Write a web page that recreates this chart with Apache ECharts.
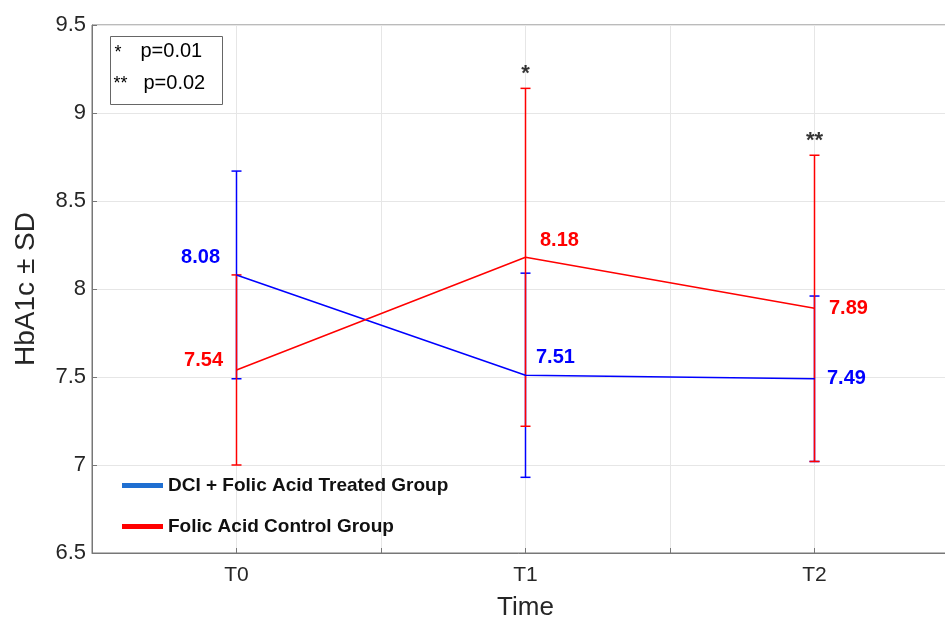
<!DOCTYPE html>
<html><head><meta charset="utf-8">
<script src="https://cdn.jsdelivr.net/npm/echarts@6/dist/echarts.min.js"></script>
<style>html,body{margin:0;padding:0;background:#fff}#c{width:945px;height:621px}</style>
</head><body><div id="c"></div>
<script>
const categories = ['T0', 'T1', 'T2'];
const dciMean = [8.08, 7.51, 7.49];
const dciSD = [0.59, 0.58, 0.47];
const folicMean = [7.54, 8.18, 7.89];
const folicSD = [0.54, 0.96, 0.87];
const significance = ['', '*', '**'];
const yTicks = [6.5, 7, 7.5, 8, 8.5, 9, 9.5];
const seriesNames = ['DCI + Folic Acid Treated Group', 'Folic Acid Control Group'];
const pNotes = [['*', 'p=0.01'], ['**', 'p=0.02']];

const BLUE = '#0000ff', RED = '#ff0000';
const FONT = 'Liberation Sans, Arial, sans-serif';

function errData(mean, sd) { return mean.map((m, i) => [i, m - sd[i], m + sd[i]]); }
function errSeries(mean, sd, color) {
  return {
    type: 'custom', silent: true, z: 3,
    data: errData(mean, sd),
    renderItem: function (params, api) {
      const lo = api.coord([api.value(0), api.value(1)]);
      const hi = api.coord([api.value(0), api.value(2)]);
      const w = 5;
      const st = { stroke: color, lineWidth: 1.5 };
      return { type: 'group', children: [
        { type: 'line', shape: { x1: lo[0], y1: lo[1], x2: hi[0], y2: hi[1] }, style: st },
        { type: 'line', shape: { x1: lo[0] - w, y1: lo[1], x2: lo[0] + w, y2: lo[1] }, style: st },
        { type: 'line', shape: { x1: hi[0] - w, y1: hi[1], x2: hi[0] + w, y2: hi[1] }, style: st }
      ]};
    }
  };
}
// label placement (style, not data)
const dciLabelPos = [{ position: 'left', distance: 16, offset: [0, -17] }, { position: 'right', distance: 10, offset: [0, -18] }, { position: 'right', distance: 12, offset: [0, 0] }];
const folicLabelPos = [{ position: 'left', distance: 13, offset: [0, -9] }, { position: 'right', distance: 14, offset: [0, -17] }, { position: 'right', distance: 14, offset: [0, 0] }];

function lineSeries(name, mean, color, pos, z) {
  return {
    name: name, type: 'line', z: z,
    symbol: 'circle', symbolSize: 1, showSymbol: true,
    lineStyle: { color: color, width: 1.5 }, itemStyle: { color: color },
    data: mean.map((m, i) => ({
      value: [i, m],
      label: { show: true, position: pos[i].position, distance: pos[i].distance, offset: pos[i].offset,
        formatter: m.toFixed(2), color: color, fontWeight: 'bold', fontSize: 20, fontFamily: FONT }
    }))
  };
}

const chart = echarts.init(document.getElementById('c'), null, { renderer: 'canvas' });
chart.setOption({
  animation: false,
  backgroundColor: '#fff',
  grid: { left: 92, top: 25, width: 867, height: 528, show: true, borderColor: '#777', borderWidth: 1, outerBoundsMode: 'none', containLabel: false },
  xAxis: {
    type: 'value', min: -0.5, max: 2.5, interval: 0.5,
    name: 'Time', nameLocation: 'middle', nameGap: 42,
    nameTextStyle: { fontSize: 26, color: '#262626', fontFamily: FONT },
    axisLine: { show: true, onZero: false, lineStyle: { color: '#777' } },
    axisTick: { show: true, inside: true, length: 5, lineStyle: { color: '#777' } },
    axisLabel: { fontSize: 21, color: '#262626', fontFamily: FONT, margin: 12,
      formatter: v => (Number.isInteger(v) && categories[v] !== undefined) ? categories[v] : '' },
    splitLine: { show: true, lineStyle: { color: '#e6e6e6' } }
  },
  yAxis: {
    type: 'value', min: yTicks[0], max: yTicks[yTicks.length - 1], interval: 0.5,
    name: 'HbA1c ± SD', nameLocation: 'middle', nameGap: 52,
    nameTextStyle: { fontSize: 28, color: '#262626', fontFamily: FONT },
    axisLine: { show: true, onZero: false, lineStyle: { color: '#777' } },
    axisTick: { show: true, inside: true, length: 5, lineStyle: { color: '#777' } },
    axisLabel: { fontSize: 22, color: '#262626', fontFamily: FONT, margin: 6, formatter: v => String(v) },
    splitLine: { show: true, lineStyle: { color: '#e6e6e6' } }
  },
  legend: {
    orient: 'vertical', left: 117, top: 471, itemGap: 22,
    itemWidth: 41, itemHeight: 5, icon: 'rect',
    textStyle: { fontSize: 19, fontWeight: 'bold', color: '#111', fontFamily: FONT, padding: [0, 0, 0, 0] },
    data: [
      { name: seriesNames[0], itemStyle: { color: '#1f6fd1' } },
      { name: seriesNames[1], itemStyle: { color: '#ff0000' } }
    ]
  },
  series: [
    errSeries(dciMean, dciSD, BLUE),
    errSeries(folicMean, folicSD, RED),
    lineSeries(seriesNames[0], dciMean, BLUE, dciLabelPos, 4),
    lineSeries(seriesNames[1], folicMean, RED, folicLabelPos, 5),
    {
      type: 'scatter', symbolSize: 0, silent: true, z: 6,
      data: folicMean.map((m, i) => ({ value: [i, m + folicSD[i]], name: significance[i] })),
      label: { show: true, position: 'top', distance: 3, formatter: p => p.name,
        fontSize: 22, fontWeight: 'bold', color: '#000', fontFamily: FONT }
    }
  ],
  graphic: [{
    type: 'group', left: 110, top: 36,
    children: [
      { type: 'rect', shape: { x: 0, y: 0, width: 112, height: 68 }, style: { fill: '#fff', stroke: '#666', lineWidth: 1 } },
      { type: 'text', x: 4, y: 8, style: { text: pNotes[0][0], fontSize: 18, fontFamily: FONT, fill: '#000' } },
      { type: 'text', x: 30, y: 5, style: { text: pNotes[0][1], fontSize: 20, fontFamily: FONT, fill: '#000' } },
      { type: 'text', x: 3, y: 39, style: { text: pNotes[1][0], fontSize: 18, fontFamily: FONT, fill: '#000' } },
      { type: 'text', x: 33, y: 37, style: { text: pNotes[1][1], fontSize: 20, fontFamily: FONT, fill: '#000' } }
    ]
  }]
});
</script></body></html>
